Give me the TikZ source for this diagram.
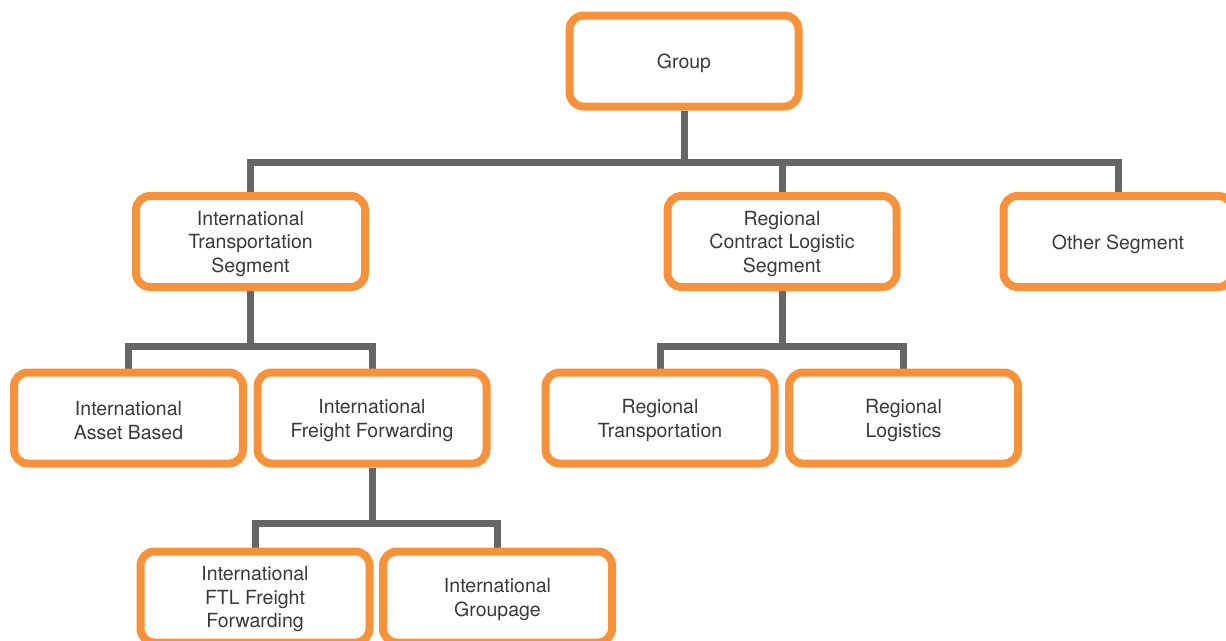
\documentclass[tikz,border=0pt]{standalone}
\usepackage{fontspec}
\setmainfont{TeX Gyre Heros}
\usetikzlibrary{calc,backgrounds}
\definecolor{boxorange}{HTML}{F7923A}
\definecolor{linegray}{HTML}{666666}
\definecolor{txtgray}{HTML}{3A3A3A}
\begin{document}
\begin{tikzpicture}[x=1pt,y=1pt,
  box/.style={draw=boxorange, line width=8pt, rounded corners=14pt, fill=white,
    minimum width=229pt, minimum height=91pt, inner sep=0pt},
  txt/.style={align=center, text=txtgray, yshift=-2.5pt, inner sep=0pt,
    font=\fontsize{19.5}{23.5}\selectfont},
  conn/.style={draw=linegray, line width=7pt}]
\useasboundingbox (0,0) rectangle (1226,-640);
\node[box, label={[txt]center:Group}] (g) at (684,-61) {};
\node[box, label={[txt]center:International\\Transportation\\Segment}] (its) at (250.5,-241.5) {};
\node[box, label={[txt]center:Regional\\Contract Logistic\\Segment}] (rcl) at (782,-241.5) {};
\node[box, label={[txt]center:Other Segment}] (oth) at (1118,-241.5) {};
\node[box, label={[txt]center:International\\Asset Based}] (iab) at (128.5,-418) {};
\node[box, label={[txt]center:International\\Freight Forwarding}] (iff) at (372,-418) {};
\node[box, label={[txt]center:Regional\\Transportation}] (rt) at (660,-418) {};
\node[box, label={[txt]center:Regional\\Logistics}] (rl) at (903.5,-418) {};
\node[box, label={[txt]center:International\\FTL Freight\\Forwarding}] (ftl) at (255,-597) {};
\node[box, label={[txt]center:International\\Groupage}] (igr) at (497.5,-597) {};
\begin{scope}[on background layer]
\path[conn] (g.south) |- ($(its.north)+(0,30)$) -- (its.north);
\path[conn] (g.south) |- ($(oth.north)+(0,30)$) -- (oth.north);
\path[conn] ($(rcl.north)+(0,30)$) -- (rcl.north);
\path[conn] (its.south) |- ($(iab.north)+(0,22)$) -- (iab.north);
\path[conn] (its.south) |- ($(iff.north)+(0,22)$) -- (iff.north);
\path[conn] (rcl.south) |- ($(rt.north)+(0,22)$) -- (rt.north);
\path[conn] (rcl.south) |- ($(rl.north)+(0,22)$) -- (rl.north);
\path[conn] (iff.south) |- ($(ftl.north)+(0,24)$) -- (ftl.north);
\path[conn] (iff.south) |- ($(igr.north)+(0,24)$) -- (igr.north);
\end{scope}
\end{tikzpicture}
\end{document}
